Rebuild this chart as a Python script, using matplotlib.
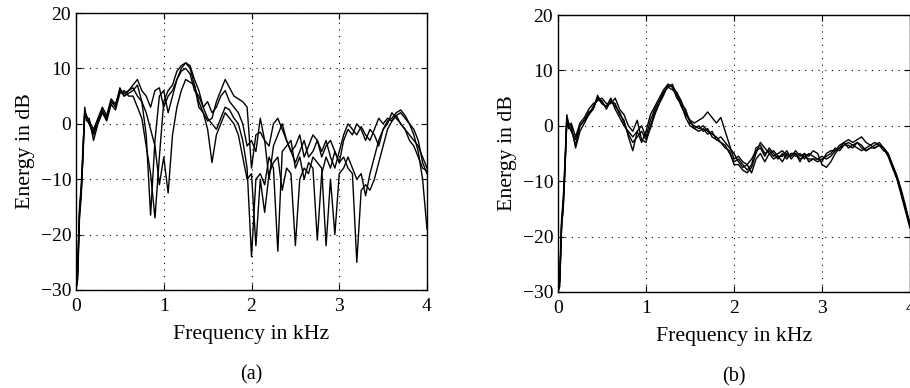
import matplotlib
matplotlib.use("Agg")
import matplotlib.pyplot as plt

plt.rcParams['font.family'] = ['Liberation Serif', 'DejaVu Serif']

freq_khz = [0, 0.02, 0.04, 0.06, 0.08, 0.10, 0.12, 0.15, 0.20, 0.25, 0.30, 0.35, 0.40, 0.45,
            0.50, 0.55, 0.60, 0.65, 0.70, 0.75, 0.80, 0.85, 0.90, 0.95, 1.00, 1.05, 1.10,
            1.15, 1.20, 1.25, 1.30, 1.35, 1.40, 1.45, 1.50, 1.55, 1.60, 1.65, 1.70, 1.75,
            1.80, 1.85, 1.90, 1.95, 2.00, 2.05, 2.10, 2.15, 2.20, 2.25, 2.30, 2.35, 2.40,
            2.45, 2.50, 2.55, 2.60, 2.65, 2.70, 2.75, 2.80, 2.85, 2.90, 2.95, 3.00, 3.05,
            3.10, 3.15, 3.20, 3.25, 3.30, 3.35, 3.40, 3.45, 3.50, 3.55, 3.60, 3.65, 3.70,
            3.75, 3.80, 3.85, 3.90, 3.95, 4.00]

# Panel (a) spectra (dB)
a_curve1 = [-30, -25, -16, -12, -6, 2.5, 1, 0, -1.5, 0.5, 2.5, 1, 4, 3, 6.5, 5, 6,
            6.5, 5, 4, -2, -16.5, -3, 5, 6, 2, 5, 8, 10, 11, 10.5, 8, 6, 3, 1, 0, -1,
            1, 3, 2.5, 1, 0, -3, -8, -24, -10, -9, -11, -6, -8, -23, -5, -4, -3, -8, -6,
            -10, -7, -8, -21, -9, -6, -8, -5, -7, -6, -8, -9, -25, -12, -11, -12, -10, -7,
            -4, -1, 0.5, 1.5, 2, 1, 0, -2, -5, -10, -19]
a_curve2 = [-30, -28, -17, -13, -5, 3, 0.5, 1, -3, 0, 2, 0.5, 3.5, 2.5, 5.5, 6, 5,
            5, 3, 1, -4, -9, -17, -6, 4, 6, 7, 9.5, 10.5, 11, 10, 7, 4, 2, 0.5, 1, 4,
            6, 8, 6.5, 5, 4.5, 4, 3, -8, -2, -1.5, -3, -4, 0, 1, -1, -3, -5, -4, -2,
            -6, -4, -2, -3, -6, -4, -3, -5, -7, -3, -1, -2, 0, -1, -3, -1, -2, -4,
            -1, 0.5, 1, 2, 2.5, 1.5, 0, -1, -3, -7, -9]
a_curve3 = [-30, -27, -15, -11, -4, 2, 1.5, 0.5, -1, 1, 3, 1.5, 4.5, 3.5, 6, 5, 5.5,
            6, 7, 4, 2, -1, -4, -11, -6, -12.5, -2, 3, 6, 8, 7.5, 7, 3, 2, -1, -7, -2,
            0, 2, 1, 0, -2, -6, -10, -9, -22, -10, -16, -9, -7, -6, -12, -8, -9, -22, -10,
            -8, -9, -6, -7, -8, -22, -10, -20, -9, -8, -6, -8, -10, -9, -13, -9, -6, -3,
            -1, 0, 2, 1, 0, -1, -3, -4, -6, -8, -8.5]
a_curve4 = [-30, -26, -16, -12, -5, 2.5, 1, 0, -2, 0.5, 2, 1, 4, 3.5, 6, 5.5, 6,
            7, 8, 6, 5, 3, 6, 6.5, 3, 5, 6, 8, 9.5, 10, 9, 6, 5, 3, 4, 2, 3,
            5, 6, 4, 3, 2, 0, -4, -3, -5, 1, -3, -10, -4, -2, 0, -3, -5, -7, -5,
            -3, -6, -5, -3, -5, -3, -6, -8, -5, -2, 0, -1, -2, -0.5, -2, -3, -1, 1,
            0, 1, 0.5, 1.5, 0, -1, -2, -3, -4, -6, -8]

# Panel (b) spectra (dB)
b_curve1 = [-30, -28, -19, -14, -7, 1.5, 0, -0.5, -3.5, 0, 1, 2.5, 3, 5.5, 4, 3.5, 5,
            3, 1.5, 0, -1, -2, -1, -3, -1, 2, 3.5, 5, 6.5, 7.5, 7, 6, 4, 3, 0.5, 0, -0.5,
            0, -1, -1.5, -2, -3, -3.5, -5, -6.5, -6, -7, -8, -7, -4, -3.5, -5, -4.5, -5.5,
            -5, -4.5, -5.5, -5, -5, -6, -5.5, -6, -6, -6.5, -6, -5.5, -5, -4, -4.5, -3.5,
            -3, -3.5, -3, -4, -4.5, -4, -4, -3.5, -4, -5, -7, -9, -11.5, -14.5, -18]
b_curve2 = [-30, -27, -17, -13, -6, 2, 0.5, 0, -4, -1, 0.5, 2, 3.5, 5, 4.5, 3, 4.5,
            4, 2, 1, -2, -4.5, -1, 0, -2, 1, 3, 4.5, 6, 7, 7.5, 5.5, 3.5, 2, 1, 0.5, 1,
            1.5, 2.5, 1.5, 0.5, 1.5, -1, -3.5, -6, -5.5, -6.5, -7, -8.5, -6, -5, -6.5, -5,
            -6, -5.5, -6.5, -5, -5.5, -4.5, -5.5, -5, -5.5, -4.5, -5, -7, -7.5, -6.5, -5,
            -4, -3, -2.5, -3, -2.5, -2, -3, -3.5, -3, -3.5, -4, -5.5, -7.5, -9.5, -12,
            -15, -17.5]
b_curve3 = [-30, -29, -18, -14, -8, 1, -0.5, 0.5, -2, 0.5, 1.5, 3, 4, 4.5, 5, 4, 4,
            5, 3, 2, 0, -1, 1, -2.5, -3, 0, 2.5, 4, 6, 7, 6.5, 6, 4.5, 2.5, 1, -0.5, -1,
            -0.5, -1.5, -1, -2.5, -2, -3, -4, -5, -6.5, -7.5, -7, -6, -4.5, -4, -5.5, -4,
            -5, -6, -5, -6, -5, -5.5, -5, -6, -5, -5.5, -6, -5.5, -6, -5.5, -4.5, -4,
            -3.5, -3.5, -4, -3, -3.5, -4.5, -4, -3.5, -3, -4, -5, -7, -9, -12, -15, -18]
b_curve4 = [-30, -28, -18, -15, -7, 0.5, 0, -1, -2.5, 0, 1, 2, 3, 5, 4, 3.5, 4.5,
            3.5, 2.5, 0.5, -1.5, -3, -2, -1, -2.5, -0.5, 2, 4, 5.5, 7.5, 7, 5, 4, 1.5,
            0, -0.5, 0, -1, -0.5, -2, -2.5, -3, -4, -4.5, -7, -7, -8, -8.5, -7.5, -5,
            -3, -4, -5, -4.5, -5.5, -5.5, -4.5, -6, -5, -6.5, -5, -6.5, -6, -6, -6.5, -5,
            -4.5, -4.5, -3.5, -3, -4, -3.5, -4, -4.5, -4, -3.5, -4, -3.5, -4.5, -5, -7.5,
            -9.5, -12.5, -15.5, -18.5]

xticks = [0, 1, 2, 3, 4]
yticks = [-30, -20, -10, 0, 10, 20]
xlabel = "Frequency in kHz"
ylabel = "Energy in dB"

fig = plt.figure(figsize=(9.10, 3.88), dpi=100)
ax_a = fig.add_axes([76/910, 1 - 290/388, 351/910, 277/388])
ax_b = fig.add_axes([558/910, 1 - 292/388, 352/910, 277/388])

panels = [(ax_a, [a_curve1, a_curve2, a_curve3, a_curve4], "(a)"),
          (ax_b, [b_curve1, b_curve2, b_curve3, b_curve4], "(b)")]

for ax, curves, tag in panels:
    for c in curves:
        ax.plot(freq_khz, c, color='black', lw=1.0)
    ax.set_xlim(0, 4)
    ax.set_ylim(-30, 20)
    ax.set_xticks(xticks)
    ax.set_yticks(yticks)
    ax.set_yticklabels([str(v).replace('-', '\u2212') for v in yticks])
    ax.grid(True, color='black', linestyle=(0, (1, 5)), lw=0.8)
    ax.tick_params(direction='in', length=4, width=0.8, top=True, right=True,
                   labelsize=14)
    ax.tick_params(axis='x', pad=6)
    ax.tick_params(axis='y', pad=3.5)
    for s in ax.spines.values():
        s.set_linewidth(1.0)
    ax.set_xlabel(xlabel, fontsize=15.7, labelpad=7)
    ax.set_ylabel(ylabel, fontsize=15.7, labelpad=4)
    ax.text(0.5, -(375 - 290) / 277, tag, transform=ax.transAxes, ha='center',
            va='center', fontsize=14.5)

fig.savefig("out.png", dpi=100)
